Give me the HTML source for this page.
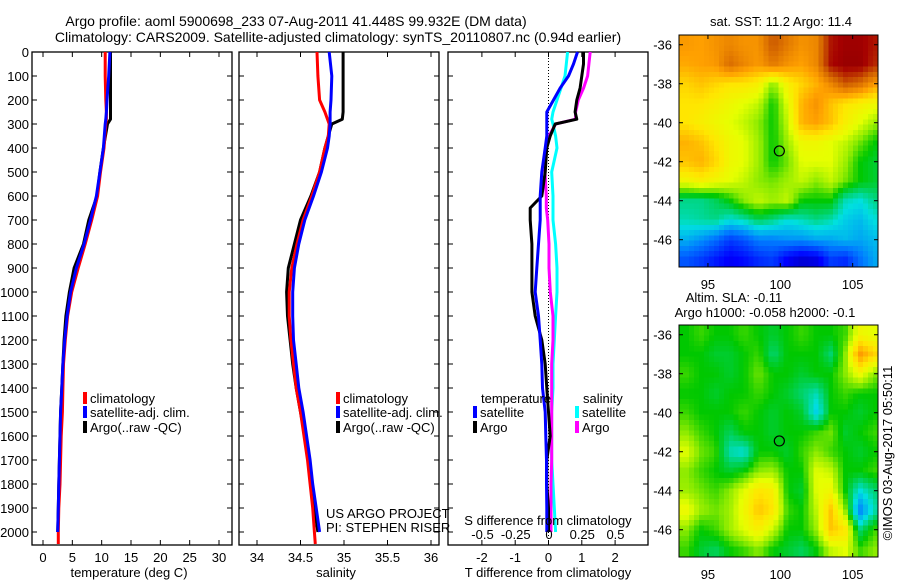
<!DOCTYPE html>
<html><head><meta charset="utf-8"><title>Argo profile</title>
<style>
html,body{margin:0;padding:0;background:#fff;}
svg{display:block;font-family:"Liberation Sans",Arial,sans-serif;}
text{fill:#000;}
</style></head>
<body>
<svg id="fig" width="900" height="580" viewBox="0 0 900 580" xmlns="http://www.w3.org/2000/svg">
<text x="296" y="26" font-size="14" text-anchor="middle">Argo profile: aoml 5900698_233 07-Aug-2011 41.448S 99.932E (DM data)</text>
<text x="338" y="42" font-size="14" text-anchor="middle">Climatology: CARS2009. Satellite-adjusted climatology: synTS_20110807.nc (0.94d earlier)</text>
<g id="p1"></g>
<g id="p2"></g>
<g id="p3"></g>
<g id="m1"></g>
<g id="m2"></g>
<text x="0" y="0" font-size="13" text-anchor="middle" transform="translate(892,453) rotate(-90)">©IMOS 03-Aug-2017 05:50:11</text>
</svg>
<script>
// ---------- data ----------
const tDepth = [0,100,200,250,280,300,400,500,600,700,800,900,1000,1100,1200,1300,1400,1500,1600,1700,1800,1900,2000];
const tClim  = [10.6,10.6,10.7,10.8,10.8,10.7,10.4,9.8,9.3,8.3,7.2,6.0,4.9,4.2,3.8,3.5,3.4,3.3,3.1,3.0,2.9,2.7,2.6];
const tSat   = [11.4,11.2,10.9,10.8,10.7,10.6,10.3,9.7,9.1,8.1,7.0,5.7,4.7,4.1,3.7,3.4,3.2,3.0,2.9,2.8,2.7,2.6,2.5];
const tArgo  = [11.5,11.5,11.5,11.5,11.5,11.0,10.3,9.7,9.2,7.8,6.9,5.3,4.5,3.9,3.6,3.4,3.2,3.0,2.9,2.8,2.7,2.6,2.5];
const tClimDeep = [2.6,2.6];
const tClimDeepDepth = [2000,2050];

const sDepth = [0,100,200,250,280,300,350,400,500,600,700,800,900,1000,1100,1200,1300,1400,1500,1600,1700,1800,1900,2000];
const sClim  = [34.69,34.70,34.72,34.78,34.81,34.83,34.82,34.78,34.72,34.63,34.53,34.46,34.40,34.37,34.37,34.39,34.42,34.45,34.50,34.54,34.58,34.61,34.64,34.66];
const sSat   = [34.83,34.86,34.85,34.84,34.84,34.84,34.83,34.81,34.74,34.65,34.55,34.48,34.43,34.41,34.41,34.42,34.45,34.48,34.53,34.57,34.61,34.64,34.68,34.72];
const sArgo  = [34.99,34.99,34.99,34.99,34.98,34.86,34.82,34.78,34.72,34.62,34.50,34.43,34.36,34.34,34.35,34.38,34.41,34.45,34.50,34.55,34.59,34.62,34.66,34.70];

const dDepth = [0,50,100,150,200,250,280,300,350,400,500,600,650,700,800,900,1000,1100,1200,1300,1400,1500,1600,1700,1800,1900,2000];
const dTSat  = [0.87,0.75,0.6,0.35,0.15,-0.05,-0.05,-0.05,-0.05,-0.1,-0.2,-0.25,-0.25,-0.25,-0.3,-0.35,-0.4,-0.3,-0.25,-0.2,-0.18,-0.1,-0.08,-0.06,-0.06,-0.05,-0.05];
const dTArgo = [1.05,1.05,1.0,0.95,0.85,0.8,0.85,0.2,0.05,-0.05,-0.1,-0.2,-0.55,-0.55,-0.5,-0.5,-0.5,-0.4,-0.2,-0.1,-0.05,0.0,0.05,-0.05,-0.05,0.0,0.0];
const dSSat  = [0.14,0.13,0.12,0.09,0.06,0.03,0.02,0.03,0.05,0.06,0.02,0.03,0.03,0.03,0.05,0.06,0.06,0.05,0.04,0.03,0.03,0.02,0.02,0.02,0.03,0.04,0.05];
const dSArgo = [0.31,0.3,0.29,0.26,0.22,0.2,0.2,0.05,0.0,-0.02,-0.03,-0.02,-0.02,-0.01,0.0,0.0,0.01,0.03,0.03,0.02,0.02,0.02,0.02,0.02,0.015,0.015,0.015];

const depthTicks = [0,100,200,300,400,500,600,700,800,900,1000,1100,1200,1300,1400,1500,1600,1700,1800,1900,2000];
const tTicks = [0,5,10,15,20,25,30];
const sTicks = [34,34.5,35,35.5,36];
const sTickLabels = ["34","34.5","35","35.5","36"];
const dTTicks = [-2,-1,0,1,2];
const dSTicks = [-0.5,-0.25,0,0.25,0.5];
const dSTickLabels = ["-0.5","-0.25","0","0.25","0.5"];
const lonTicks = [95,100,105];
const latTicks = [-36,-38,-40,-42,-44,-46];
const argoLon = 99.932, argoLat = -41.448;

const sstGrid = [
[0.75,0.74,0.76,0.78,0.76,0.76,0.85,0.8,0.76,0.78,0.92,0.95,0.95,0.92],
[0.73,0.74,0.75,0.82,0.78,0.75,0.8,0.76,0.74,0.78,0.93,0.96,0.96,0.9],
[0.68,0.7,0.68,0.66,0.66,0.64,0.55,0.64,0.68,0.72,0.78,0.85,0.82,0.75],
[0.66,0.66,0.64,0.62,0.6,0.58,0.5,0.6,0.72,0.76,0.7,0.66,0.64,0.62],
[0.66,0.64,0.62,0.6,0.58,0.55,0.5,0.58,0.72,0.74,0.7,0.64,0.6,0.56],
[0.72,0.7,0.66,0.62,0.6,0.56,0.5,0.56,0.62,0.62,0.6,0.58,0.54,0.5],
[0.7,0.72,0.68,0.62,0.6,0.56,0.5,0.54,0.6,0.6,0.6,0.56,0.5,0.48],
[0.62,0.64,0.62,0.6,0.58,0.55,0.54,0.56,0.58,0.55,0.58,0.54,0.5,0.48],
[0.44,0.44,0.46,0.5,0.55,0.58,0.56,0.58,0.5,0.5,0.5,0.42,0.4,0.44],
[0.42,0.43,0.44,0.4,0.42,0.46,0.44,0.4,0.42,0.44,0.42,0.38,0.36,0.4],
[0.35,0.32,0.28,0.22,0.25,0.3,0.3,0.32,0.32,0.34,0.34,0.36,0.34,0.36],
[0.25,0.22,0.18,0.14,0.16,0.2,0.22,0.14,0.1,0.12,0.22,0.2,0.28,0.34]];
const slaGrid = [
[0.5,0.52,0.5,0.5,0.52,0.5,0.48,0.5,0.52,0.5,0.5,0.52,0.62,0.6],
[0.5,0.5,0.48,0.48,0.5,0.52,0.45,0.5,0.5,0.5,0.45,0.55,0.75,0.68],
[0.52,0.5,0.5,0.48,0.5,0.54,0.5,0.5,0.48,0.5,0.5,0.55,0.62,0.55],
[0.5,0.5,0.48,0.5,0.5,0.52,0.5,0.48,0.45,0.42,0.5,0.52,0.5,0.5],
[0.52,0.5,0.5,0.5,0.52,0.5,0.48,0.5,0.48,0.38,0.5,0.5,0.48,0.5],
[0.55,0.52,0.5,0.46,0.5,0.5,0.48,0.5,0.5,0.52,0.54,0.48,0.5,0.52],
[0.6,0.54,0.52,0.42,0.4,0.5,0.5,0.48,0.52,0.55,0.52,0.5,0.48,0.5],
[0.55,0.52,0.5,0.48,0.5,0.55,0.56,0.5,0.5,0.6,0.58,0.5,0.5,0.52],
[0.56,0.54,0.52,0.55,0.6,0.66,0.64,0.5,0.48,0.6,0.62,0.5,0.4,0.45],
[0.62,0.56,0.54,0.56,0.62,0.7,0.66,0.52,0.5,0.58,0.7,0.55,0.3,0.42],
[0.55,0.5,0.52,0.56,0.6,0.64,0.58,0.5,0.5,0.56,0.7,0.66,0.45,0.52],
[0.52,0.48,0.46,0.5,0.52,0.55,0.5,0.48,0.46,0.5,0.58,0.6,0.52,0.55]];

// ---------- helpers ----------
const NS = "http://www.w3.org/2000/svg";
function mk(parent, tag, attrs, txt){
  const e = document.createElementNS(NS, tag);
  for (const k in attrs) e.setAttribute(k, attrs[k]);
  if (txt !== undefined) e.textContent = txt;
  parent.appendChild(e); return e;
}
const Y0 = 52, YB = 545;
const yD = d => Y0 + d * 0.24;
const xT = v => 43 + v * 5.867;
const xS = v => 257 + (v - 34) * 87;
const xDT = v => 548.5 + v * 33.3;
const xDS = v => 549 + v * 133;

function linePath(xs, ds, xf){
  let p = "";
  for (let i = 0; i < xs.length; i++){
    p += (i === 0 ? "M" : "L") + xf(xs[i]).toFixed(1) + "," + yD(ds[i]).toFixed(1);
  }
  return p;
}
function frame(g, x0, x1, name){
  const r = mk(g, "rect", {x:x0, y:Y0, width:x1-x0, height:YB-Y0, fill:"none", stroke:"#000", "stroke-width":1.3});
  
  
}
function depthTicksOn(g, x0, x1, labels){
  depthTicks.forEach(d => {
    const y = yD(d);
    mk(g, "line", {x1:x0, y1:y, x2:x0+5, y2:y, stroke:"#000"});
    mk(g, "line", {x1:x1, y1:y, x2:x1-5, y2:y, stroke:"#000"});
    if (labels){
      const t = mk(g, "text", {x:29, y:y+5, "font-size":13, "text-anchor":"end"}, String(d));
      
      
    }
  });
}
function xTicksOn(g, vals, labs, xf, ly){
  vals.forEach((v,i) => {
    const x = xf(v);
    mk(g, "line", {x1:x, y1:Y0, x2:x, y2:Y0+5, stroke:"#000"});
    mk(g, "line", {x1:x, y1:YB, x2:x, y2:YB-5, stroke:"#000"});
    const t = mk(g, "text", {x:x, y:ly, "font-size":13, "text-anchor":"middle"}, labs[i]);
    
    
  });
}
function series(g, vals, ds, xf, color, name){
  const p = mk(g, "path", {d:linePath(vals, ds, xf), fill:"none", stroke:color, "stroke-width":3, "stroke-linejoin":"round"});
  
  
}
function legendEntry(g, mx, y, color, label){
  const r = mk(g, "rect", {x:mx-2, y:y-11, width:4, height:12, fill:color});
  
  
  const t = mk(g, "text", {x:mx+5, y:y, "font-size":13}, label);
  
  
}

// ---------- panel 1: temperature ----------
const p1 = document.getElementById("p1");
frame(p1, 32, 232, "temperature-axes");
depthTicksOn(p1, 32, 232, true);
xTicksOn(p1, tTicks, tTicks.map(String), xT, 562);
const xl1 = mk(p1, "text", {x:129, y:577, "font-size":13, "text-anchor":"middle"}, "temperature (deg C)");


series(p1, tClimDeep, tClimDeepDepth, xT, "#ff0000", "temp-climatology-deep");
series(p1, tArgo, tDepth, xT, "#000000", "temp-argo-line");
series(p1, tClim, tDepth, xT, "#ff0000", "temp-climatology-line");
series(p1, tSat, tDepth, xT, "#0000ff", "temp-satellite-line");
legendEntry(p1, 85, 403, "#ff0000", "climatology");
legendEntry(p1, 85, 417, "#0000ff", "satellite-adj. clim.");
legendEntry(p1, 85, 432, "#000000", "Argo(..raw -QC)");

// ---------- panel 2: salinity ----------
const p2 = document.getElementById("p2");
frame(p2, 239, 439, "salinity-axes");
depthTicksOn(p2, 239, 439, false);
xTicksOn(p2, sTicks, sTickLabels, xS, 562);
const xl2 = mk(p2, "text", {x:336, y:577, "font-size":13, "text-anchor":"middle"}, "salinity");


series(p2, sArgo, sDepth, xS, "#000000", "sal-argo-line");
series(p2, sClim.concat([34.67]), sDepth.concat([2050]), xS, "#ff0000", "sal-climatology-line");
series(p2, sSat, sDepth, xS, "#0000ff", "sal-satellite-line");
legendEntry(p2, 338, 403, "#ff0000", "climatology");
legendEntry(p2, 338, 417, "#0000ff", "satellite-adj. clim.");
legendEntry(p2, 338, 432, "#000000", "Argo(..raw -QC)");
const c1 = mk(p2, "text", {x:326, y:518, "font-size":13}, "US ARGO PROJECT");


const c2 = mk(p2, "text", {x:326, y:532, "font-size":13}, "PI: STEPHEN RISER");



// ---------- panel 3: differences ----------
const p3 = document.getElementById("p3");
frame(p3, 448, 648, "difference-axes");
depthTicksOn(p3, 448, 648, false);
xTicksOn(p3, dTTicks, dTTicks.map(String), xDT, 562);
mk(p3, "line", {x1:xDT(0), y1:Y0, x2:xDT(0), y2:YB, stroke:"#000", "stroke-width":1, "stroke-dasharray":"1,2"});
series(p3, dSSat, dDepth, xDS, "#00ffff", "sdiff-satellite-line");
series(p3, dSArgo, dDepth, xDS, "#ff00ff", "sdiff-argo-line");
series(p3, dTArgo, dDepth, xDT, "#000000", "tdiff-argo-line");
series(p3, dTSat, dDepth, xDT, "#0000ff", "tdiff-satellite-line");
dSTicks.forEach((v,i) => {
  const t = mk(p3, "text", {x:xDS(v), y:539, "font-size":13, "text-anchor":"middle"}, dSTickLabels[i]);
  
  
});
const st = mk(p3, "text", {x:548, y:525, "font-size":13, "text-anchor":"middle"}, "S difference from climatology");


const tt = mk(p3, "text", {x:548, y:577, "font-size":13, "text-anchor":"middle"}, "T difference from climatology");


const lt = mk(p3, "text", {x:481, y:403, "font-size":13}, "temperature");


const ls = mk(p3, "text", {x:583, y:403, "font-size":13}, "salinity");


legendEntry(p3, 475, 417, "#0000ff", "satellite");
legendEntry(p3, 475, 432, "#000000", "Argo");
legendEntry(p3, 577, 417, "#00ffff", "satellite");
legendEntry(p3, 577, 432, "#ff00ff", "Argo");

// ---------- maps ----------
const stops = [[0,[0,0,128]],[0.15,[0,0,255]],[0.3,[0,128,255]],[0.4,[0,224,224]],[0.5,[0,200,0]],[0.55,[140,235,0]],[0.6,[230,255,0]],[0.66,[255,230,0]],[0.74,[255,160,0]],[0.84,[208,96,0]],[0.94,[165,0,0]],[1,[128,0,0]]];
function cmap(v){
  v = Math.max(0, Math.min(1, v));
  for (let i = 1; i < stops.length; i++){
    if (v <= stops[i][0]){
      const a = stops[i-1], b = stops[i], f = (v - a[0]) / (b[0] - a[0]);
      return "rgb(" + [0,1,2].map(k => Math.round(a[1][k] + f*(b[1][k]-a[1][k]))).join(",") + ")";
    }
  }
  return "rgb(128,0,0)";
}
function sample(grid, fr, fc){
  const R = grid.length, C = grid[0].length;
  fr = Math.max(0, Math.min(R-1, fr)); fc = Math.max(0, Math.min(C-1, fc));
  const r0 = Math.floor(fr), c0 = Math.floor(fc), r1 = Math.min(R-1, r0+1), c1 = Math.min(C-1, c0+1);
  const a = fr - r0, b = fc - c0;
  return grid[r0][c0]*(1-a)*(1-b) + grid[r0][c1]*(1-a)*b + grid[r1][c0]*a*(1-b) + grid[r1][c1]*a*b;
}
function drawMap(g, grid, top, bottom, name){
  const X0 = 679, X1 = 878;
  const lonMin = 93.0, lonMax = 106.75, latTop = -35.5, latBot = -47.4;
  const xL = lon => X0 + (lon - lonMin) / (lonMax - lonMin) * (X1 - X0);
  const yL = lat => top + (latTop - lat) / (latTop - latBot) * (bottom - top);
  const NX = 40, NY = 44, cw = (X1-X0)/NX, ch = (bottom-top)/NY;
  const cells = mk(g, "g", {"shape-rendering":"crispEdges"});
  
  
  for (let j = 0; j < NY; j++){
    for (let i = 0; i < NX; i++){
      const lon = lonMin + (i+0.5)/NX*(lonMax-lonMin);
      const lat = latTop - (j+0.5)/NY*(latTop-latBot);
      const v = sample(grid, -36 - lat, lon - 93.5);
      mk(cells, "rect", {x:(X0+i*cw).toFixed(2), y:(top+j*ch).toFixed(2), width:(cw+0.6).toFixed(2), height:(ch+0.6).toFixed(2), fill:cmap(v)});
    }
  }
  const fr = mk(g, "rect", {x:X0, y:top, width:X1-X0, height:bottom-top, fill:"none", stroke:"#000", "stroke-width":1});
  
  
  latTicks.forEach(lat => {
    const y = yL(lat);
    mk(g, "line", {x1:X0, y1:y, x2:X0+4, y2:y, stroke:"#000"});
    mk(g, "line", {x1:X1, y1:y, x2:X1-4, y2:y, stroke:"#000"});
    const t = mk(g, "text", {x:672, y:y+5, "font-size":13, "text-anchor":"end"}, String(lat));
    
    
  });
  lonTicks.forEach(lon => {
    const x = xL(lon);
    mk(g, "line", {x1:x, y1:bottom, x2:x, y2:bottom-4, stroke:"#000"});
    mk(g, "line", {x1:x, y1:top, x2:x, y2:top+4, stroke:"#000"});
    const t = mk(g, "text", {x:x, y:bottom+22, "font-size":13, "text-anchor":"middle"}, String(lon));
    
    
  });
  const c = mk(g, "ellipse", {cx:xL(argoLon), cy:yL(argoLat), rx:5, ry:5, fill:"none", stroke:"#000", "stroke-width":1.2});
  
  
}
const m1 = document.getElementById("m1");
drawMap(m1, sstGrid, 35, 267, "sst-map");
const mt1 = mk(m1, "text", {x:781, y:26, "font-size":13, "text-anchor":"middle"}, "sat. SST: 11.2 Argo: 11.4");


const m2 = document.getElementById("m2");
drawMap(m2, slaGrid, 325, 557, "sla-map");
const mt2 = mk(m2, "text", {x:734, y:302, "font-size":13, "text-anchor":"middle"}, "Altim. SLA: -0.11");


const mt3 = mk(m2, "text", {x:765, y:317, "font-size":13, "text-anchor":"middle"}, "Argo h1000: -0.058 h2000: -0.1");


</script>
</body></html>
